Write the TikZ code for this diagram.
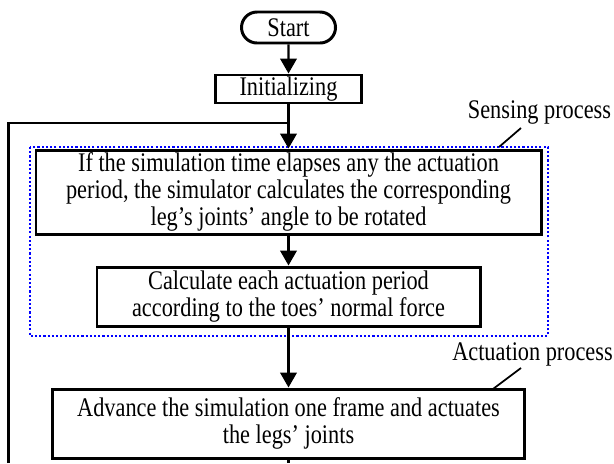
\documentclass[tikz,border=0pt]{standalone}
\usepackage{fontspec}
\setmainfont{Liberation Serif}[FakeStretch=0.83]
\usetikzlibrary{arrows.meta,shapes.misc}
\tikzset{
  box/.style={draw, line width=1.7pt, align=center, inner sep=0pt,
    font=\fontsize{15.3}{15.4}\selectfont},
  flow/.style={line width=1.4pt, -{Triangle[length=0.3cm,width=0.33cm]}},
  wire/.style={line width=1.4pt},
  group/.style={draw=blue, line width=1.4pt, dash pattern=on 1.2pt off 1.2pt},
  lead/.style={line width=1pt},
  tag/.style={font=\fontsize{15.3}{15.4}\selectfont}
}
\begin{document}
\begin{tikzpicture}
\useasboundingbox (0,0) rectangle (12.28,-9.26);

\node[box, rounded rectangle, minimum width=1.88cm, minimum height=0.62cm] (start) at (5.77,-0.55) {Start};
\node[box, minimum width=2.92cm, minimum height=0.56cm] (init) at (5.77,-1.78) {Initializing};
\node[box, minimum width=10.10cm, minimum height=1.68cm] (rotate) at (5.77,-3.84)
  {If the simulation time elapses any the actuation\\
   period, the simulator calculates the corresponding\\
   leg's joints' angle to be rotated};
\node[box, minimum width=7.66cm, minimum height=1.18cm] (period) at (5.77,-5.93)
  {Calculate each actuation period\\ according to the toes' normal force};
\node[box, minimum width=9.44cm, minimum height=1.38cm] (advance) at (5.77,-8.47)
  {Advance the simulation one frame and actuates\\ the legs' joints};

% sensing group
\draw[group] (0.60,-2.94) rectangle (10.96,-6.72);
\node[tag] (sensing) at (10.79,-2.24) {Sensing process};
\node[tag] (actuation) at (10.65,-7.08) {Actuation process};
\coordinate (sensefoot) at (9.98,-2.94);
\coordinate (sensehead) at (10.42,-2.56);
\coordinate (actfoot) at (9.86,-7.78);
\coordinate (acthead) at (10.42,-7.36);
\draw[lead] (sensefoot) -- (sensehead);
\draw[lead] (actfoot) -- (acthead);

% loop back
\coordinate (join) at (5.77,-2.46);
\coordinate (looptop) at (0.17,-2.46);
\coordinate (loopend) at (0.17,-9.26);
\coordinate (out) at (5.77,-9.26);
\draw[wire] (loopend) -- (looptop) -- (join);
\draw[wire] (advance) -- (out);

\draw[flow] (start) -- (init);
\draw[flow] (init) -- (rotate);
\draw[flow] (rotate) -- (period);
\draw[flow] (period) -- (advance);

\end{tikzpicture}
\end{document}
